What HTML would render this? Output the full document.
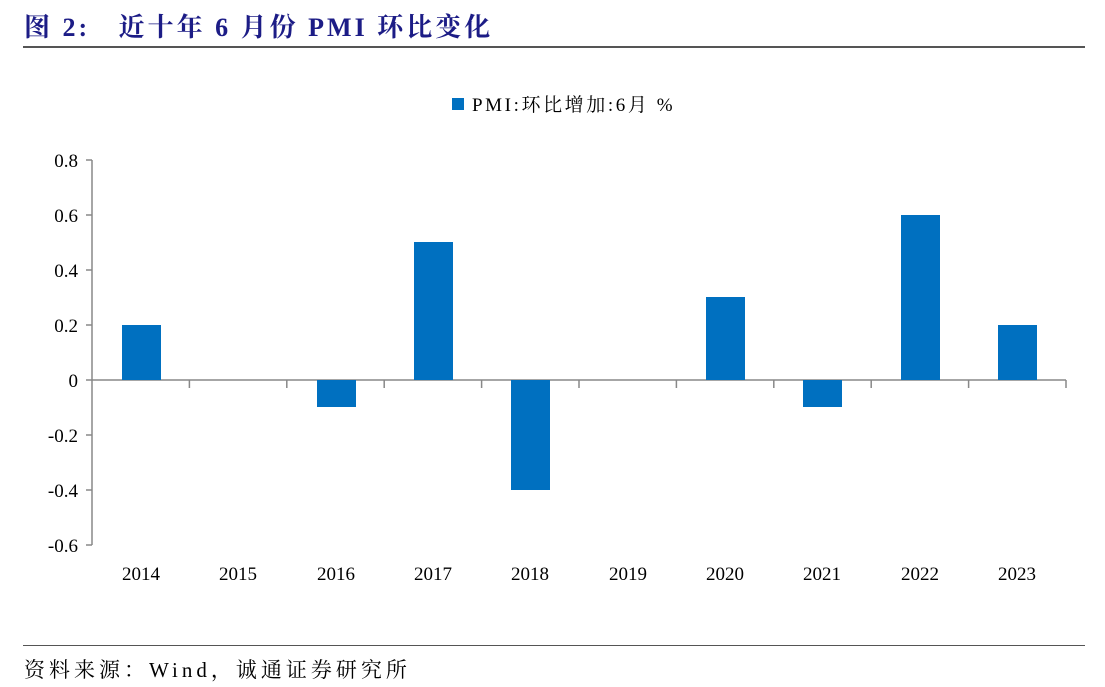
<!DOCTYPE html>
<html><head><meta charset="utf-8"><style>
body{margin:0;width:1105px;height:687px;background:#fff;overflow:hidden;position:relative;font-family:"Liberation Serif","Noto Serif CJK SC",serif}
.t{position:absolute;left:24px;top:7px;font-size:26px;font-weight:bold;color:#1c1c86;white-space:pre;letter-spacing:3px}
.r1{position:absolute;left:23px;top:46px;width:1062px;height:2px;background:#555}
.r2{position:absolute;left:23px;top:645px;width:1062px;height:1px;background:#555}
.s{position:absolute;left:24px;top:654px;font-size:21px;color:#000;letter-spacing:4px;white-space:pre}
</style></head><body>
<div class="t">图 2:   近十年 6 月份 PMI 环比变化</div>
<div class="r1"></div>
<svg width="1105" height="687" style="position:absolute;left:0;top:0" font-family="Liberation Serif, Noto Serif CJK SC, serif">
<rect x="452" y="98" width="12" height="12" fill="#0070c0"/>
<text x="472" y="111" font-size="19" fill="#000" letter-spacing="2.6">PMI:环比增加:6月 %</text>
<g stroke="#888" stroke-width="1.5" fill="none">
<line x1="92" y1="160" x2="92" y2="545"/>
<line x1="92" y1="380" x2="1066" y2="380"/>
<path d="M86 160H92M86 215H92M86 270H92M86 325H92M86 380H92M86 435H92M86 490H92M86 545H92"/>
<path d="M189.4 380V388M286.8 380V388M384.2 380V388M481.6 380V388M579 380V388M676.4 380V388M773.8 380V388M871.2 380V388M968.6 380V388M1066 380V388"/>
</g>
<g font-size="19" fill="#000" text-anchor="end">
<text x="78" y="167">0.8</text><text x="78" y="222">0.6</text><text x="78" y="277">0.4</text><text x="78" y="332">0.2</text><text x="78" y="387">0</text><text x="78" y="442">-0.2</text><text x="78" y="497">-0.4</text><text x="78" y="552">-0.6</text>
</g>
<g fill="#0070c0">
<rect x="122" y="325" width="39" height="55"/>
<rect x="317" y="380" width="39" height="27"/>
<rect x="414" y="242" width="39" height="138"/>
<rect x="511" y="380" width="39" height="110"/>
<rect x="706" y="297" width="39" height="83"/>
<rect x="803" y="380" width="39" height="27"/>
<rect x="901" y="215" width="39" height="165"/>
<rect x="998" y="325" width="39" height="55"/>
</g>
<g font-size="19" fill="#000" text-anchor="middle">
<text x="141" y="580">2014</text><text x="238" y="580">2015</text><text x="336" y="580">2016</text><text x="433" y="580">2017</text><text x="530" y="580">2018</text><text x="628" y="580">2019</text><text x="725" y="580">2020</text><text x="822" y="580">2021</text><text x="920" y="580">2022</text><text x="1017" y="580">2023</text>
</g>
</svg>
<div class="r2"></div>
<div class="s">资料来源：Wind，诚通证券研究所</div>
</body></html>
